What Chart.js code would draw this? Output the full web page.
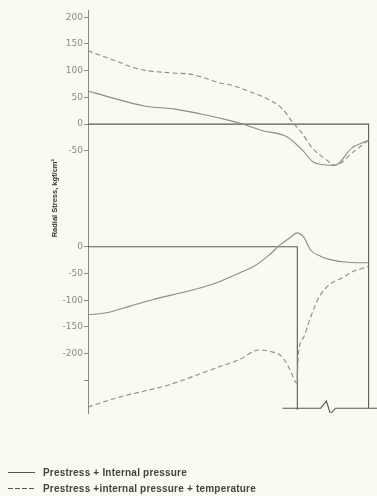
<!DOCTYPE html>
<html>
<head>
<meta charset="utf-8">
<script src="https://cdn.jsdelivr.net/npm/chart.js@4"></script>
<style>
  html, body { margin: 0; padding: 0; background: #fafaf0; }
  #wrap { position: relative; width: 377px; height: 496px; overflow: hidden; }
  #radialChart { position: absolute; left: 0; top: 0; }
  .legendrow { position: absolute; left: 8px; height: 12px; display: flex; align-items: center;
    font: bold 10px "Liberation Sans", Arial, sans-serif; letter-spacing: 0.2px; color: #444; white-space: nowrap; }
  .legendrow svg { margin-right: 8px; }
</style>
</head>
<body>
<div id="wrap">
  <canvas id="radialChart" width="377" height="496"></canvas>
  <div class="legendrow" style="top:466px">
    <svg width="27" height="3"><line x1="0" y1="1.5" x2="27" y2="1.5" stroke="#555" stroke-width="1"/></svg>
    <span>Prestress + Internal pressure</span>
  </div>
  <div class="legendrow" style="top:482px">
    <svg width="27" height="3"><line x1="0" y1="1.5" x2="27" y2="1.5" stroke="#555" stroke-width="1" stroke-dasharray="5,2"/></svg>
    <span>Prestress +internal pressure + temperature</span>
  </div>
</div>
<script>
'use strict';
//** Data */

// upper panel (outer shell)
let upperSolidX = [0, 8, 20, 31, 42, 51, 57, 62, 71, 77, 80, 84, 88, 94, 100];
let upperSolidY = [62, 50, 34, 28, 17, 6, -3, -12, -24, -52, -70, -76, -77, -45, -30];
let upperDashX = [0, 10, 18, 29, 37, 47, 51, 59, 64, 69, 73, 76, 80, 85, 88, 94.6, 100];
let upperDashY = [137, 118, 103, 96, 93, 77, 73, 58, 47, 30, 3, -15, -45, -67, -77, -52, -30];

// lower panel (inner shell)
let lowerSolidX = [0, 6, 15, 23, 30, 38, 47, 51, 54, 59, 64, 68.6, 72, 74.5, 77, 79.3, 83, 86.4, 92.5, 100];
let lowerSolidY = [-127, -124, -111, -99, -90, -80, -65, -56, -49, -37, -18, 4, 17, 26, 17, -6, -18, -24, -29, -30];
let lowerDashX = [0, 10, 29, 47, 51, 54, 61, 65, 69, 72, 74.4, 75, 77, 79, 82.5, 86, 90.7, 94.6, 100];
let lowerDashY = [-300, -283, -258, -224, -217, -211, -193, -196, -205, -230, -255, -199, -168, -137, -93, -71, -58, -46, -37];

// tick labels
let upperTicks = [200, 150, 100, 50, 0, -50];
let lowerTicks = [0, -50, -100, -150, -200, -250];
let lowerTickLabels = ['0', '-50', '-100', '-150', '-200', ''];

// axis ranges
let upperMax = 213.5;
let upperMin = -65.3;
let lowerMax = 164.2;
let lowerMin = -311;

// frame of the shells
let upperFrameX = [0, 100, 100];
let upperFrameY = [0, 0, upperMin];
let lowerStepX = [0, 74.6, 74.6];
let lowerStepY = [0, 0, -305];
let lowerRightX = [100, 100];
let lowerRightY = [lowerMax, -302];
let baseX = [69.3, 82.9, 85, 86.4, 88.2, 103];
let baseY = [-302, -302, -289, -313, -302, -302];

//** Helpers */

let curveColor = '#8c8c8c';
let frameColor = '#5a5a5a';
let axisColor = '#8a8a8a';

function points(xs, ys){
  return xs.map((x, i) => ({ x: x, y: ys[i] }));
}

function curve(label, xs, ys, axis, dashed){
  return {
    label: label,
    data: points(xs, ys),
    yAxisID: axis,
    borderColor: curveColor,
    borderWidth: 1.1,
    borderDash: dashed ? [5, 3] : [],
    pointRadius: 0,
    cubicInterpolationMode: 'monotone',
    clip: false, // upper curves dip a little below the upper panel's range
    fill: false
  };
}

function frame(xs, ys, axis){
  return {
    label: 'frame',
    data: points(xs, ys),
    yAxisID: axis,
    borderColor: frameColor,
    borderWidth: 1.1,
    pointRadius: 0,
    tension: 0,
    fill: false
  };
}

function yAxis(min, max, weight, ticks, labels){
  return {
    type: 'linear',
    position: 'left',
    stack: 'radial',
    stackWeight: weight,
    min: min,
    max: max,
    afterBuildTicks: (scale) => { scale.ticks = ticks.map(v => ({ value: v })); },
    afterFit: (scale) => { scale.width = 88; },
    border: { color: axisColor, width: 1 },
    grid: { drawOnChartArea: false, tickLength: 4, color: axisColor },
    ticks: {
      color: '#8a8a8a',
      padding: 1,
      font: { family: 'DejaVu Sans', size: 9 },
      callback: (v) => labels[ticks.indexOf(v)]
    }
  };
}

//** Chart */

let lowerAxis = yAxis(lowerMin, lowerMax, 254, lowerTicks, lowerTickLabels);
lowerAxis.title = {
  display: true,
  text: 'Radial Stress, kgf/cm²',
  align: 'end',
  color: '#333',
  font: { family: 'Liberation Sans', size: 7.5, weight: 'bold' },
  padding: { top: 50, bottom: 0 }
};

// left stacked axes are laid out last-first, so the lower panel is listed first
let chartObj = {
  type: 'line',
  data: {
    datasets: [
      curve('Prestress + Internal pressure', upperSolidX, upperSolidY, 'yUpper', false),
      curve('Prestress +internal pressure + temperature', upperDashX, upperDashY, 'yUpper', true),
      curve('Prestress + Internal pressure', lowerSolidX, lowerSolidY, 'yLower', false),
      curve('Prestress +internal pressure + temperature', lowerDashX, lowerDashY, 'yLower', true),
      frame(upperFrameX, upperFrameY, 'yUpper'),
      frame(lowerStepX, lowerStepY, 'yLower'),
      frame(lowerRightX, lowerRightY, 'yLower'),
      frame(baseX, baseY, 'yLower')
    ]
  },
  options: {
    responsive: false,
    animation: false,
    devicePixelRatio: 1,
    layout: { padding: { top: 10, bottom: 83, left: 0, right: 0 } },
    plugins: { legend: { display: false }, tooltip: { enabled: false } },
    scales: {
      x: { type: 'linear', min: 0, max: 103, display: false },
      yLower: lowerAxis,
      yUpper: yAxis(upperMin, upperMax, 149, upperTicks, upperTicks.map(String))
    }
  }
};

new Chart(document.getElementById('radialChart'), chartObj);
</script>
</body>
</html>
